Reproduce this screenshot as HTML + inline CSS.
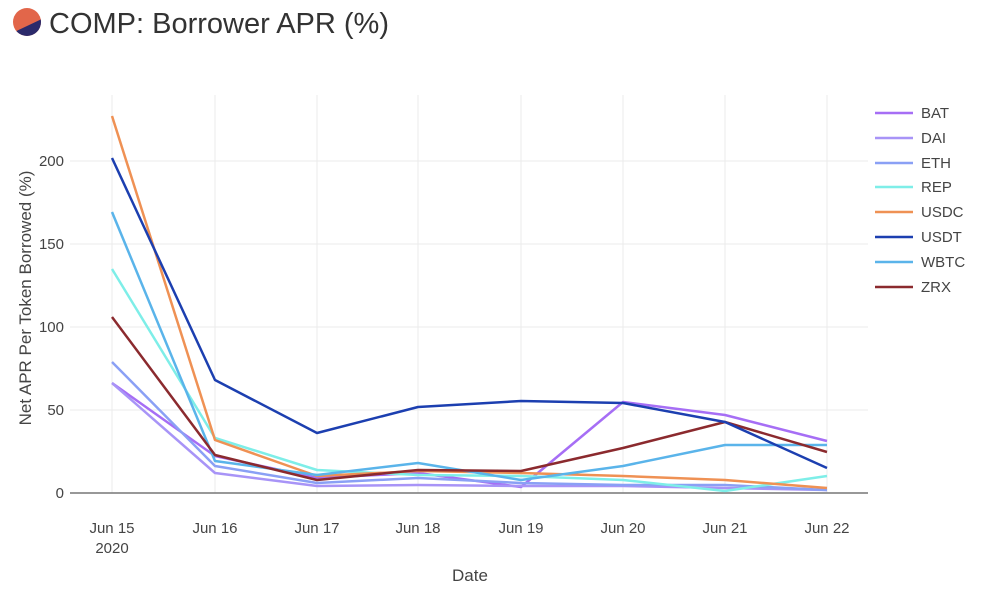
<!DOCTYPE html>
<html><head><meta charset="utf-8"><style>
body{margin:0;background:#fff;width:1000px;height:596px;overflow:hidden;font-family:"Liberation Sans",sans-serif}
</style></head><body>
<svg width="1000" height="596" xmlns="http://www.w3.org/2000/svg" font-family="Liberation Sans, sans-serif">
<defs><clipPath id="c"><circle cx="27" cy="22" r="14"/></clipPath></defs>
<g clip-path="url(#c)"><rect x="12" y="7" width="30" height="30" fill="#e2664a"/><polygon points="10,38 44,38 44,18 10,34" fill="#2b2a6b"/></g>
<text x="49" y="33" font-size="29" fill="#333">COMP: Borrower APR (%)</text>
<g stroke="#ebebeb" stroke-width="1">
<line x1="70" x2="868" y1="410" y2="410"/><line x1="70" x2="868" y1="327" y2="327"/><line x1="70" x2="868" y1="244" y2="244"/><line x1="70" x2="868" y1="161" y2="161"/>
<line x1="112" x2="112" y1="95" y2="493"/><line x1="215" x2="215" y1="95" y2="493"/><line x1="317" x2="317" y1="95" y2="493"/><line x1="418" x2="418" y1="95" y2="493"/><line x1="521" x2="521" y1="95" y2="493"/><line x1="623" x2="623" y1="95" y2="493"/><line x1="725" x2="725" y1="95" y2="493"/><line x1="827" x2="827" y1="95" y2="493"/>
</g>
<line x1="70" x2="868" y1="493" y2="493" stroke="#777" stroke-width="1.5"/>
<g font-size="15" fill="#444" text-anchor="end">
<text x="64" y="498">0</text><text x="64" y="415">50</text><text x="64" y="332">100</text><text x="64" y="249">150</text><text x="64" y="166">200</text>
</g>
<g font-size="15" fill="#444" text-anchor="middle">
<text x="112" y="533">Jun 15</text><text x="112" y="553">2020</text>
<text x="215" y="533">Jun 16</text><text x="317" y="533">Jun 17</text><text x="418" y="533">Jun 18</text><text x="521" y="533">Jun 19</text><text x="623" y="533">Jun 20</text><text x="725" y="533">Jun 21</text><text x="827" y="533">Jun 22</text>
<text x="470" y="581" font-size="17">Date</text>
</g>
<text transform="translate(31,298) rotate(-90)" font-size="17" fill="#444" text-anchor="middle">Net APR Per Token Borrowed (%)</text>
<g fill="none" stroke-width="2.5" stroke-linejoin="round">
<polyline stroke="#a66ef5" points="112,383 215,456 317,478 418,473 521,487 623,402 725,415 827,441"/>
<polyline stroke="#a894f7" points="112,383 215,473 317,486 418,485 521,486 623,486 725,488 827,490"/>
<polyline stroke="#8aa0f5" points="112,362 215,466 317,483 418,478 521,483 623,485 725,485 827,490"/>
<polyline stroke="#7eeee8" points="112,269 215,438 317,470 418,475 521,476 623,480 725,491 827,476"/>
<polyline stroke="#ef9154" points="112,116 215,440 317,476 418,471 521,473 623,476 725,480 827,488"/>
<polyline stroke="#5ab4ea" points="112,212 215,461 317,475 418,463 521,480 623,466 725,445 827,445"/>
<polyline stroke="#8b2a2e" points="112,317 215,455 317,480 418,470 521,471 623,448 725,422 827,452"/>
<polyline stroke="#1c3fb0" points="112,158 215,380 317,433 418,407 521,401 623,403 725,422 827,468"/>
</g>
<g font-size="15" fill="#444">
<g stroke-width="2.5">
<line x1="875" x2="913" y1="113" y2="113" stroke="#a66ef5"/><line x1="875" x2="913" y1="138" y2="138" stroke="#a894f7"/><line x1="875" x2="913" y1="163" y2="163" stroke="#8aa0f5"/><line x1="875" x2="913" y1="187" y2="187" stroke="#7eeee8"/><line x1="875" x2="913" y1="212" y2="212" stroke="#ef9154"/><line x1="875" x2="913" y1="237" y2="237" stroke="#1c3fb0"/><line x1="875" x2="913" y1="262" y2="262" stroke="#5ab4ea"/><line x1="875" x2="913" y1="287" y2="287" stroke="#8b2a2e"/>
</g>
<text x="921" y="118">BAT</text><text x="921" y="143">DAI</text><text x="921" y="168">ETH</text><text x="921" y="192">REP</text><text x="921" y="217">USDC</text><text x="921" y="242">USDT</text><text x="921" y="267">WBTC</text><text x="921" y="292">ZRX</text>
</g>
</svg>
</body></html>
